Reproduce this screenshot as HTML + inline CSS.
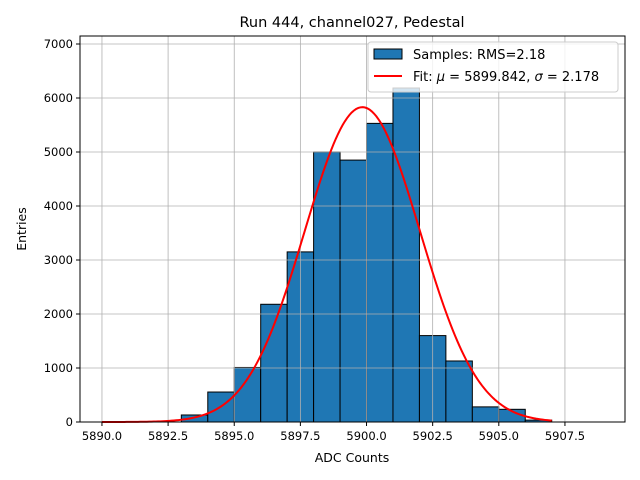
<!DOCTYPE html>
<html><head><meta charset="utf-8"><style>
body{margin:0;background:#fff}
svg{display:block;font-family:"DejaVu Sans","Liberation Sans",sans-serif}
</style></head><body>
<svg id="chart" width="640" height="480" viewBox="0 0 640 480"></svg>
<script>
const binEdgesStart = [5893,5894,5895,5896,5897,5898,5899,5900,5901,5902,5903,5904,5905,5906];
const binCounts = [130,555,1010,2180,3150,5000,4850,5530,6185,1600,1130,280,235,35];
const fitParams = [5830, 5899.842, 2.178]; // amplitude, mu, sigma
const fitRange = [5890, 5907];
const xTicks = [5890.0,5892.5,5895.0,5897.5,5900.0,5902.5,5905.0,5907.5];
const yTicks = [0,1000,2000,3000,4000,5000,6000,7000];

const L=80,R=625,T=36,B=422;
const xMin=5889.17,xMax=5909.77,yMin=0,yMax=7148;
const xs=v=>L+(v-xMin)/(xMax-xMin)*(R-L);
const ys=v=>B-(v-yMin)/(yMax-yMin)*(B-T);
const svg=document.getElementById('chart');
const NS='http://www.w3.org/2000/svg';
function mk(tag,attrs,parent){const e=document.createElementNS(NS,tag);for(const k in attrs)e.setAttribute(k,attrs[k]);(parent||svg).appendChild(e);return e;}

// bars
binEdgesStart.forEach((x0,i)=>{const r=mk('rect',{x:xs(x0),y:ys(binCounts[i]),width:xs(x0+1)-xs(x0),height:ys(0)-ys(binCounts[i]),fill:'#1f77b4',stroke:'#000','stroke-width':1});

});

// grid (drawn above bars)
xTicks.forEach(t=>{const l=mk('line',{x1:xs(t),x2:xs(t),y1:T,y2:B,stroke:'#b0b0b0','stroke-width':0.8});

});
yTicks.forEach(t=>{const l=mk('line',{x1:L,x2:R,y1:ys(t),y2:ys(t),stroke:'#b0b0b0','stroke-width':0.8});

});

// fit curve
let d='';for(let i=0;i<=200;i++){const x=fitRange[0]+(fitRange[1]-fitRange[0])*i/200;const y=fitParams[0]*Math.exp(-0.5*Math.pow((x-fitParams[1])/fitParams[2],2));d+=(i?'L':'M')+xs(x).toFixed(2)+','+ys(y).toFixed(2);}
const fc=mk('path',{d:d,fill:'none',stroke:'#ff0000','stroke-width':2});



// axes frame
const fr=mk('rect',{x:L,y:T,width:R-L,height:B-T,fill:'none',stroke:'#000','stroke-width':1});



xTicks.forEach(t=>{mk('line',{x1:xs(t),x2:xs(t),y1:B,y2:B+4,stroke:'#000'});
const tx=mk('text',{x:xs(t),y:B+18,'text-anchor':'middle','font-size':'11.5px',fill:'#000'});tx.textContent=t.toFixed(1);

});
yTicks.forEach(t=>{mk('line',{x1:L-4,x2:L,y1:ys(t),y2:ys(t),stroke:'#000'});
const tx=mk('text',{x:L-7,y:ys(t)+4,'text-anchor':'end','font-size':'11.5px',fill:'#000'});tx.textContent=t;

});

// legend
const lg=mk('g',{});


mk('rect',{x:368,y:42,width:250,height:50,rx:3,fill:'#fff','fill-opacity':0.8,stroke:'#cccccc'},lg);
mk('rect',{x:374,y:49,width:28,height:10,fill:'#1f77b4',stroke:'#000'},lg);
const t1=mk('text',{x:413,y:59,'font-size':'13px'},lg);t1.textContent='Samples: RMS=2.18';


mk('line',{x1:374,x2:402,y1:76,y2:76,stroke:'#ff0000','stroke-width':2},lg);
const t2=mk('text',{x:413,y:81,'font-size':'13px'},lg);
t2.innerHTML='Fit: <tspan font-style="italic">μ</tspan> = 5899.842, <tspan font-style="italic">σ</tspan> = 2.178';


</script>
<svg style="position:absolute;left:0;top:0" width="640" height="480">
<text x="352" y="27" text-anchor="middle" font-size="14.5" font-family="DejaVu Sans,Liberation Sans,sans-serif">Run 444, channel027, Pedestal</text>
<text x="352" y="462" text-anchor="middle" font-size="12.5" font-family="DejaVu Sans,Liberation Sans,sans-serif">ADC Counts</text>
<text x="26" y="229" text-anchor="middle" font-size="12.5" font-family="DejaVu Sans,Liberation Sans,sans-serif" transform="rotate(-90 26 229)">Entries</text>
</svg>
</body></html>
